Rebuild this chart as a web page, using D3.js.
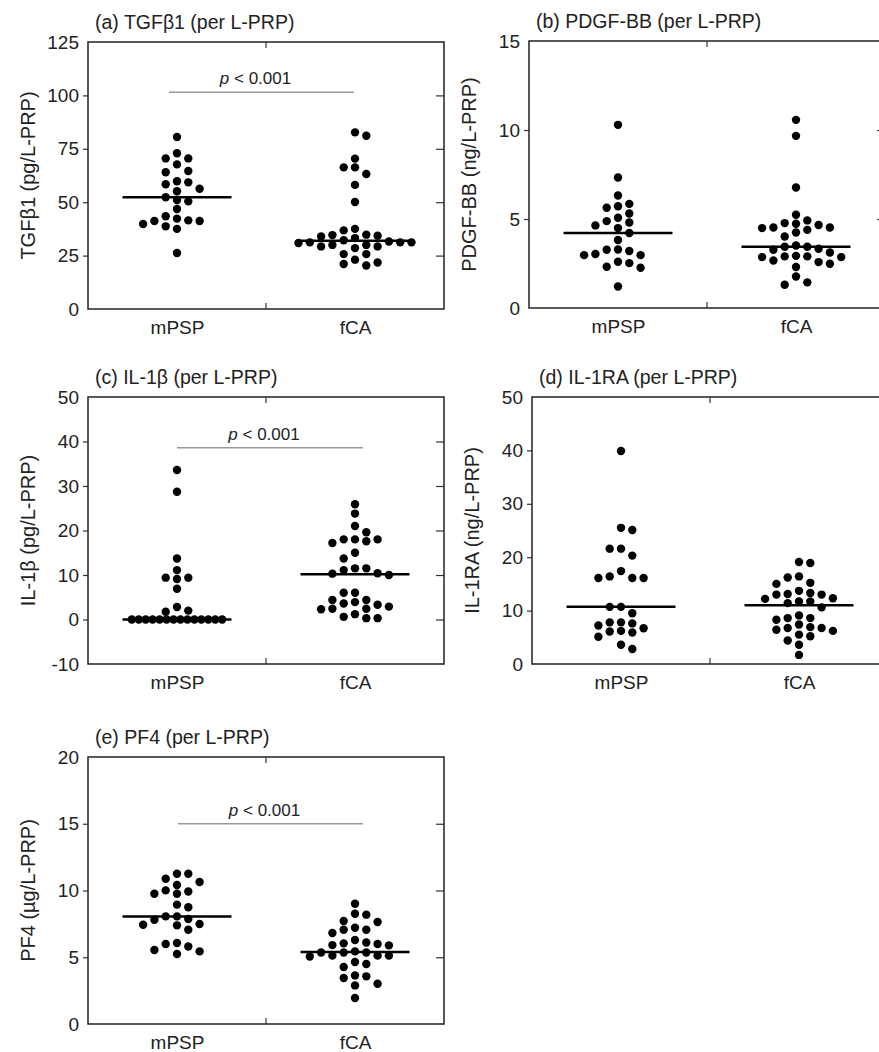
<!DOCTYPE html>
<html>
<head>
<meta charset="utf-8">
<script src="https://cdn.jsdelivr.net/npm/d3@7"></script>
<style>
  body { margin: 0; background: #fff; }
  svg { display: block; }
  text { font-family: Arial, "Liberation Sans", sans-serif; fill: #222; }
</style>
</head>
<body>
<svg id="chart" width="879" height="1052"></svg>
<script>
// ---- data ----
var categories = ["mPSP", "fCA"];

var tgfTicks = [0, 25, 50, 75, 100, 125];
var tgfMPSP = [80.5, 72.9, 70.5, 70.5, 67.7, 64.6, 64.0, 59.8, 59.3, 58.4, 56.3, 55.1, 52.3,
  51.0, 50.4, 46.8, 43.4, 42.3, 41.5, 41.2, 41.2, 39.8, 38.7, 37.5, 26.2];
var tgfFCA = [82.7, 81.1, 70.4, 66.3, 66.3, 63.2, 58.1, 50.1, 37.5, 36.8, 34.8, 34.6, 34.3,
  34.0, 33.2, 32.2, 31.6, 31.2, 31.2, 31.2, 30.9, 30.0, 30.0, 29.3, 29.3, 28.5, 25.7, 25.7,
  23.1, 21.8, 21.1, 20.4];

var pdgfTicks = [0, 5, 10, 15];
var pdgfMPSP = [10.29, 7.33, 6.32, 5.85, 5.72, 5.63, 5.31, 5.07, 4.88, 4.80, 4.64, 4.49, 4.21,
  3.82, 3.29, 3.27, 3.20, 3.03, 2.97, 2.97, 2.60, 2.52, 2.32, 2.26, 1.21];
var pdgfFCA = [10.57, 9.67, 6.77, 5.24, 4.92, 4.77, 4.73, 4.66, 4.52, 4.52, 4.49, 4.39, 4.24,
  4.02, 3.51, 3.44, 3.44, 3.33, 3.27, 3.12, 2.93, 2.90, 2.90, 2.86, 2.86, 2.67, 2.58, 2.49,
  2.30, 1.77, 1.44, 1.31];

var il1bTicks = [-10, 0, 10, 20, 30, 40, 50];
var il1bMPSP = [33.6, 28.7, 13.7, 11.1, 9.4, 9.4, 9.1, 6.9, 2.8, 2.0, 1.75,
  0, 0, 0, 0, 0, 0, 0, 0, 0, 0, 0, 0, 0, 0];
var il1bFCA = [25.9, 23.8, 21.0, 19.6, 18.0, 18.0, 18.0, 17.6, 17.2, 15.0, 13.7, 11.5, 11.5,
  11.1, 10.4, 10.3, 10.0, 6.0, 6.0, 4.4, 4.4, 3.9, 3.6, 3.3, 2.9, 2.4, 2.4, 2.3, 1.2, 0.6,
  0.3, 0.3];

var il1raTicks = [0, 10, 20, 30, 40, 50];
var il1raMPSP = [39.9, 25.5, 25.1, 21.6, 21.6, 20.3, 17.4, 16.4, 16.1, 16.1, 16.1, 10.7, 10.7,
  9.5, 7.8, 7.8, 7.6, 7.2, 6.7, 6.2, 6.1, 5.9, 5.1, 3.6, 2.8];
var il1raFCA = [19.1, 18.9, 16.4, 16.2, 15.2, 15.0, 13.7, 13.3, 13.1, 13.0, 13.0, 12.3, 12.2,
  11.7, 11.7, 11.4, 10.6, 9.1, 8.6, 8.6, 8.3, 7.4, 6.9, 6.75, 6.75, 6.4, 6.2, 5.5, 5.2, 4.4,
  3.6, 1.7];

var pf4Ticks = [0, 5, 10, 15, 20];
var pf4MPSP = [11.26, 11.26, 10.88, 10.64, 10.41, 10.01, 9.93, 9.76, 9.76, 8.94, 8.74, 8.06,
  8.06, 7.86, 7.81, 7.49, 7.44, 7.39, 7.06, 6.07, 5.99, 5.81, 5.54, 5.44, 5.24];
var pf4FCA = [9.01, 8.26, 8.19, 7.72, 7.64, 7.21, 7.06, 7.06, 6.82, 6.29, 6.11, 6.04, 5.99,
  5.91, 5.89, 5.44, 5.36, 5.36, 5.36, 5.12, 5.12, 5.12, 5.06, 4.64, 4.49, 4.27, 3.64, 3.57,
  3.45, 3.02, 2.89, 1.95];

// ---- panels ----
var W = 356, H = 267;
var panels = [
  { title: "(a) TGFβ1 (per L-PRP)", ylab: "TGFβ1 (pg/L-PRP)", left: 88, top: 42,
    ticks: tgfTicks, groups: [tgfMPSP, tgfFCA], sig: { level: 101.5, d0: -8, d1: -1 } },
  { title: "(b) PDGF-BB (per L-PRP)", ylab: "PDGF-BB (ng/L-PRP)", left: 529, top: 41,
    ticks: pdgfTicks, groups: [pdgfMPSP, pdgfFCA] },
  { title: "(c) IL-1β (per L-PRP)", ylab: "IL-1β (pg/L-PRP)", left: 88, top: 397,
    ticks: il1bTicks, groups: [il1bMPSP, il1bFCA], sig: { level: 38.6, d0: 0, d1: 8 } },
  { title: "(d) IL-1RA (per L-PRP)", ylab: "IL-1RA (ng/L-PRP)", left: 532, top: 397,
    ticks: il1raTicks, groups: [il1raMPSP, il1raFCA] },
  { title: "(e) PF4 (per L-PRP)", ylab: "PF4 (µg/L-PRP)", left: 88, top: 757,
    ticks: pf4Ticks, groups: [pf4MPSP, pf4FCA], sig: { level: 15.0, d0: 1, d1: 8 } }
];

var svg = d3.select("#chart");
var R = 4.2;

// grid beeswarm: columns spaced s apart, a column can't hold two dots closer than d
function swarm(vals, y, cx) {
  var s = 11.3, d = 8.5, maxCols = 9;
  var counts = d3.rollup(vals, function(g) { return g.length; }, function(v) { return v; });
  var pts = vals.map(function(v) { return { v: v, y: y(v) }; });
  var placed = [], flip = 1;
  pts.slice().sort(function(a, b) { return a.y - b.y; }).forEach(function(p) {
    if (counts.get(p.v) > maxCols) return;
    for (var k = 0; k < 30; k++) {
      var cands = k === 0 ? [0] : [flip * k, -flip * k];
      var c = cands.find(function(c) {
        return !placed.some(function(q) { return q.col === c && Math.abs(q.y - p.y) < d; });
      });
      if (c !== undefined) { p.col = c; if (k) flip = -flip; placed.push(p); break; }
    }
    p.x = cx + p.col * s;
  });
  // lots of identical values: squeeze them into one row
  counts.forEach(function(n, v) {
    if (n <= maxCols) return;
    var step = (maxCols - 1) * s / (n - 1);
    pts.filter(function(p) { return p.v === v; }).forEach(function(p, i) {
      p.x = cx + (i - (n - 1) / 2) * step;
    });
  });
  return pts;
}

panels.forEach(function(P) {
  var x = d3.scalePoint().domain(categories).range([P.left, P.left + W]).padding(0.5);
  var y = d3.scaleLinear().domain(d3.extent(P.ticks)).range([P.top + H, P.top]);
  var g = svg.append("g");
  var inner = P.ticks.slice(1, -1);

  // left axis: labels, short outward ticks
  var ax = g.append("g").attr("transform", "translate(" + P.left + ",0)")
    .call(d3.axisLeft(y).tickValues(P.ticks).tickSize(5).tickPadding(4)
      .tickFormat(function(d) { return String(d); }));
  ax.select(".domain").remove();
  ax.selectAll(".tick line").attr("stroke", "#333").attr("stroke-width", 1.2)
    .filter(function(d) { return inner.indexOf(d) < 0; }).remove();
  ax.selectAll(".tick text").attr("font-size", 19).attr("fill", "#222");

  // right axis: inward ticks only
  var rx = g.append("g").attr("transform", "translate(" + (P.left + W) + ",0)")
    .call(d3.axisRight(y).tickValues(inner).tickSize(-8).tickFormat(""));
  rx.select(".domain").remove();
  rx.selectAll(".tick line").attr("stroke", "#333").attr("stroke-width", 1.2);

  // bottom category labels
  var bx = g.append("g").attr("transform", "translate(0," + (P.top + H) + ")")
    .call(d3.axisBottom(x).tickSize(0).tickPadding(12));
  bx.select(".domain").remove();
  bx.selectAll(".tick text").attr("font-size", 19).attr("fill", "#222");

  // frame + middle ticks
  g.append("rect").attr("x", P.left).attr("y", P.top).attr("width", W).attr("height", H)
    .attr("fill", "none").attr("stroke", "#222").attr("stroke-width", 1.5);
  var mid = (x(categories[0]) + x(categories[1])) / 2;
  g.append("line").attr("x1", mid).attr("x2", mid).attr("y1", P.top).attr("y2", P.top + 6)
    .attr("stroke", "#333").attr("stroke-width", 1.2);
  g.append("line").attr("x1", mid).attr("x2", mid).attr("y1", P.top + H).attr("y2", P.top + H - 6)
    .attr("stroke", "#333").attr("stroke-width", 1.2);

  // title and y label
  g.append("text").attr("x", P.left + 7).attr("y", P.top - 13)
    .attr("font-size", 19.5).text(P.title);
  g.append("text")
    .attr("transform", "translate(" + (P.left - 60) + "," + (P.top + H / 2) + ") rotate(-90)")
    .attr("text-anchor", "middle").attr("dy", "0.35em").attr("font-size", 20).text(P.ylab);

  // dots + median
  P.groups.forEach(function(vals, i) {
    var cx = x(categories[i]);
    g.append("g").selectAll("circle").data(swarm(vals, y, cx)).join("circle")
      .attr("cx", function(d) { return d.x; })
      .attr("cy", function(d) { return d.y; })
      .attr("r", R).attr("fill", "#000");
    var med = d3.median(vals);
    g.append("line").attr("x1", cx - 54.5).attr("x2", cx + 54.5)
      .attr("y1", y(med)).attr("y2", y(med))
      .attr("stroke", "#000").attr("stroke-width", 2.5);
  });

  // significance bar
  if (P.sig) {
    var x0 = x(categories[0]) + P.sig.d0, x1 = x(categories[1]) + P.sig.d1;
    var ly = y(P.sig.level);
    g.append("line").attr("x1", x0).attr("x2", x1).attr("y1", ly).attr("y2", ly)
      .attr("stroke", "#999").attr("stroke-width", 1.5);
    var t = g.append("text").attr("x", (x0 + x1) / 2 - 6).attr("y", ly - 8)
      .attr("text-anchor", "middle").attr("font-size", 17);
    t.append("tspan").attr("font-style", "italic").text("p");
    t.append("tspan").text(" < 0.001");
  }
});
</script>
</body>
</html>
